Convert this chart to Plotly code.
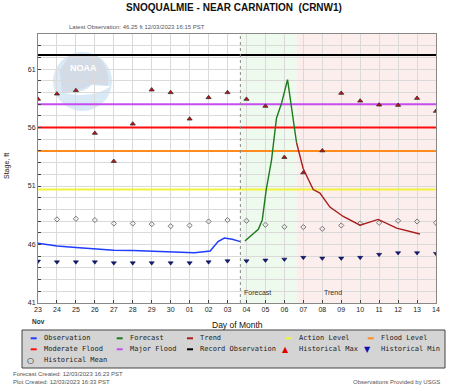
import plotly.graph_objects as go

# ---------------- data ----------------
obs_time = ["2023-11-23 00:00", "2023-11-24 00:00", "2023-11-25 00:00", "2023-11-26 00:00",
            "2023-11-27 00:00", "2023-11-28 00:00", "2023-11-29 00:00", "2023-11-30 00:00",
            "2023-11-30 18:00", "2023-12-01 06:00", "2023-12-01 18:00", "2023-12-02 02:00",
            "2023-12-02 12:00", "2023-12-02 20:00", "2023-12-03 06:00", "2023-12-03 16:15"]
obs_stage = [46.10, 45.88, 45.74, 45.62, 45.52, 45.48, 45.44, 45.40,
             45.32, 45.30, 45.38, 45.44, 46.25, 46.55, 46.45, 46.25]

fcst_time = ["2023-12-03 22:00", "2023-12-04 15:00", "2023-12-04 20:00", "2023-12-05 01:00",
             "2023-12-05 07:40", "2023-12-05 14:00", "2023-12-05 20:30", "2023-12-06 04:00",
             "2023-12-06 15:25"]
fcst_stage = [46.3, 47.3, 48.1, 50.7, 53.2, 56.8, 58.1, 60.1, 54.7]

trend_time = ["2023-12-06 15:25", "2023-12-06 23:45", "2023-12-07 12:30", "2023-12-07 21:00",
              "2023-12-08 09:40", "2023-12-09 02:30", "2023-12-09 23:45", "2023-12-10 22:50",
              "2023-12-11 22:10", "2023-12-13 03:40"]
trend_stage = [54.7, 52.5, 50.7, 50.4, 49.2, 48.4, 47.65, 48.15, 47.4, 46.9]

hist_days = ["2023-11-23", "2023-11-24", "2023-11-25", "2023-11-26", "2023-11-27", "2023-11-28",
             "2023-11-29", "2023-11-30", "2023-12-01", "2023-12-02", "2023-12-03", "2023-12-04",
             "2023-12-05", "2023-12-06", "2023-12-07", "2023-12-08", "2023-12-09", "2023-12-10",
             "2023-12-11", "2023-12-12", "2023-12-13", "2023-12-14"]
day_labels = ["23", "24", "25", "26", "27", "28", "29", "30", "01", "02", "03", "04",
              "05", "06", "07", "08", "09", "10", "11", "12", "13", "14"]
hist_max = [58.43, 58.88, 59.17, 55.52, 53.12, 56.31, 59.23, 59.0, 56.74, 58.57, 59.0,
            58.43, 57.83, 53.46, 52.14, 54.02, 58.94, 58.28, 57.94, 57.91, 58.51, 57.4]
hist_mean = [None, 48.15, 48.2, 48.09, 47.8, 47.8, 47.74, 47.57, 47.63, 47.97, 48.09,
             48.03, 47.69, 47.51, 47.49, 47.34, 47.63, 47.8, 47.86, 48.03, 47.97, 47.86]
hist_min = [44.57, 44.51, 44.51, 44.51, 44.43, 44.43, 44.43, 44.43, 44.43, 44.51, 44.6,
            44.6, 44.66, 44.74, 44.89, 44.83, 44.83, 44.89, 45.15, 45.29, 45.29, 45.23]

action_level = 50.7
flood_level = 54.0
moderate_flood = 56.0
major_flood = 58.0
record_obs = 62.2

y_ticks = [41, 46, 51, 56, 61]
x_range = ["2023-11-23", "2023-12-14"]
y_range = [41, 64]

# ---------------- styles ----------------
C_OBS, C_FC, C_TR = "#1f3cff", "#1d7a1d", "#a81c1c"
C_ACT, C_FLD, C_MOD, C_MAJ, C_REC = "#f2f23a", "#ff8a1e", "#ff0d0d", "#c64cf0", "#000000"
C_HMAX, C_HMIN, C_HMEAN = "#c81212", "#101c80", "#777777"

W, H = 456, 391
ML, MR, MT, MB = 38, 20, 34, 88
PW, PH = W - ML - MR, H - MT - MB


def px(x):
    return (x - ML) / PW


def py(y):
    return (H - MB - y) / PH


fig = go.Figure()

# threshold lines
levels = [("Action Level", action_level, C_ACT), ("Flood Level", flood_level, C_FLD),
          ("Moderate Flood", moderate_flood, C_MOD), ("Major Flood", major_flood, C_MAJ),
          ("Record Observation", record_obs, C_REC)]
for name, lvl, col in levels:
    fig.add_trace(go.Scatter(x=x_range, y=[lvl, lvl], mode="lines", name=name,
                             line=dict(color=col, width=2), hoverinfo="skip"))

fig.add_trace(go.Scatter(x=hist_days, y=hist_mean, mode="markers", name="Historical Mean",
                         marker=dict(symbol="diamond-open", size=4, color=C_HMEAN,
                                     line=dict(width=1, color=C_HMEAN))))
fig.add_trace(go.Scatter(x=hist_days, y=hist_max, mode="markers", name="Historical Max",
                         marker=dict(symbol="triangle-up", size=4.5, color=C_HMAX,
                                     line=dict(width=0.7, color="#222222"))))
fig.add_trace(go.Scatter(x=hist_days, y=hist_min, mode="markers", name="Historical Min",
                         marker=dict(symbol="triangle-down", size=4.5, color=C_HMIN,
                                     line=dict(width=0.5, color="#000033"))))

fig.add_trace(go.Scatter(x=obs_time, y=obs_stage, mode="lines", name="Observation",
                         line=dict(color=C_OBS, width=1.5)))
fig.add_trace(go.Scatter(x=fcst_time, y=fcst_stage, mode="lines", name="Forecast",
                         line=dict(color=C_FC, width=1.4)))
fig.add_trace(go.Scatter(x=trend_time, y=trend_stage, mode="lines", name="Trend",
                         line=dict(color=C_TR, width=1.4)))

shapes = []
# forecast / trend shading (below grid)
shapes.append(dict(type="rect", xref="x", yref="paper", x0=obs_time[-1], x1=fcst_time[-1],
                   y0=0, y1=1, fillcolor="#eefaee", line=dict(width=0), layer="below"))
shapes.append(dict(type="rect", xref="x", yref="paper", x0=trend_time[0], x1=x_range[1],
                   y0=0, y1=1, fillcolor="#fdeeee", line=dict(width=0), layer="below"))
# NOAA watermark
shapes.append(dict(type="circle", xref="paper", yref="paper", x0=px(53), x1=px(112),
                   y0=py(111), y1=py(52), fillcolor="#d9e9f6", line=dict(width=0), layer="below"))
shapes.append(dict(type="path", xref="paper", yref="paper",
                   path="M %f %f L %f %f L %f %f Q %f %f %f %f L %f %f Q %f %f %f %f Z" % (
                       px(60), py(70), px(70), py(55), px(96), py(55),
                       px(110), py(66), px(108), py(86),
                       px(92), py(84),
                       px(80), py(92), px(62), py(92)),
                   fillcolor="#d3dbe6", line=dict(width=0), layer="below"))
shapes.append(dict(type="path", xref="paper", yref="paper",
                   path="M %f %f Q %f %f %f %f Q %f %f %f %f Q %f %f %f %f Z" % (
                       px(60), py(92), px(80), py(96), px(92), py(85),
                       px(102), py(86), px(111), py(86),
                       px(92), py(100), px(60), py(92)),
                   fillcolor="#ffffff", line=dict(width=0), layer="below"))
# forecast start dotted line
shapes.append(dict(type="line", xref="x", yref="paper", x0=obs_time[-1], x1=obs_time[-1],
                   y0=0, y1=1, line=dict(color="#888888", width=1, dash="dot")))

# ---------------- custom legend ----------------
shapes.append(dict(type="rect", xref="paper", yref="paper", x0=px(22), x1=px(445),
                   y0=py(368), y1=py(330), fillcolor="#d4d4d4",
                   line=dict(color="#444444", width=1), layer="above"))
legend_items = [("Observation", "line", C_OBS), ("Forecast", "line", C_FC),
                ("Trend", "line", C_TR), ("Action Level", "line", C_ACT),
                ("Flood Level", "line", C_FLD), ("Moderate Flood", "line", C_MOD),
                ("Major Flood", "line", C_MAJ), ("Record Observation", "line", C_REC),
                ("Historical Max", "\u25B2", "#e00000"), ("Historical Min", "\u25BC", "#1010b0"),
                ("Historical Mean", "\u25CB", "#000000")]
col_x = [41.7, 127.7, 198, 297, 378.7]
row_y = [338.3, 349.3, 360.3]
annotations = []
for i, (name, kind, col) in enumerate(legend_items):
    tx, ty = col_x[i % 5], row_y[i // 5]
    if kind == "line":
        shapes.append(dict(type="line", xref="paper", yref="paper", x0=px(tx - 11), x1=px(tx - 5),
                           y0=py(ty), y1=py(ty), line=dict(color=col, width=2), layer="above"))
    else:
        annotations.append(dict(text=kind, xref="paper", yref="paper", x=px(tx - 11.5), y=py(ty),
                                showarrow=False, xanchor="center", yanchor="middle",
                                font=dict(family="DejaVu Sans", size=8, color=col)))
    annotations.append(dict(text=name, xref="paper", yref="paper", x=px(tx), y=py(ty),
                            showarrow=False, xanchor="left", yanchor="middle",
                            font=dict(family="DejaVu Sans Mono", size=7, color="#222222")))

# ---------------- texts ----------------
grey = "#555555"
annotations += [
    dict(text="<b>SNOQUALMIE - NEAR CARNATION  (CRNW1)</b>", x=px(234), y=py(8),
         font=dict(family="Liberation Sans", size=10, color="#111111")),
    dict(text="Latest Observation: 46.25 ft 12/03/2023 16:15 PST", x=px(137), y=py(26.7),
         font=dict(family="Liberation Sans", size=6, color=grey)),
    dict(text="Stage, ft", x=px(7), y=py(166), textangle=-90,
         font=dict(family="Liberation Sans", size=7, color="#222222")),
    dict(text="Day of Month", x=px(237.5), y=py(324.5),
         font=dict(family="Liberation Sans", size=8.5, color="#111111")),
    dict(text="<b>Nov</b>", x=px(38.7), y=py(321.7),
         font=dict(family="Liberation Sans", size=6.5, color="#333333")),
    dict(text="Forecast Created: 12/03/2023 16:23 PST", x=px(11), y=py(374), xanchor="left",
         font=dict(family="Liberation Sans", size=6, color=grey)),
    dict(text="Plot Created: 12/03/2023 16:33 PST", x=px(11), y=py(382), xanchor="left",
         font=dict(family="Liberation Sans", size=6, color=grey)),
    dict(text="Observations Provided by USGS", x=px(441.7), y=py(382), xanchor="right",
         font=dict(family="Liberation Sans", size=6, color=grey)),
    dict(text="<b>NOAA</b>", x=px(83), y=py(68),
         font=dict(family="Liberation Sans", size=9, color="#ffffff")),
]
for a in annotations:
    a.setdefault("xref", "paper")
    a.setdefault("yref", "paper")
    a.setdefault("showarrow", False)
    a.setdefault("xanchor", "center")
    a.setdefault("yanchor", "middle")

annotations.append(dict(text="Forecast", xref="x", yref="paper", x=obs_time[-1], xshift=2,
                        y=py(292), showarrow=False, xanchor="left", yanchor="middle",
                        font=dict(family="Liberation Sans", size=7, color="#333333")))
annotations.append(dict(text="Trend", xref="x", yref="paper", x="2023-12-08", y=py(292),
                        showarrow=False, xanchor="left", yanchor="middle",
                        font=dict(family="Liberation Sans", size=7, color="#333333")))

fig.update_layout(
    width=W, height=H,
    margin=dict(l=ML, r=MR, t=MT, b=MB, autoexpand=False),
    paper_bgcolor="white", plot_bgcolor="white",
    showlegend=False, hovermode=False,
    shapes=shapes, annotations=annotations,
    font=dict(family="Liberation Sans", size=7, color="#333333"),
)
fig.update_xaxes(type="date", range=x_range, tickmode="array", tickvals=hist_days,
                 ticktext=day_labels, ticks="inside", ticklen=3, tickcolor="#444444",
                 showgrid=True, gridcolor="#dadada", gridwidth=1,
                 showline=True, linecolor="#888888", mirror=True, zeroline=False,
                 tickfont=dict(family="Liberation Sans", size=7, color="#222222"))
fig.update_yaxes(range=y_range, tickmode="array", tickvals=y_ticks,
                 ticks="inside", ticklen=3, tickcolor="#444444",
                 showgrid=True, gridcolor="#dadada", gridwidth=1,
                 minor=dict(tickmode="linear", tick0=y_range[0], dtick=1, ticks="inside", ticklen=3,
                            tickcolor="#444444", showgrid=True, gridcolor="#dadada"),
                 showline=True, linecolor="#888888", mirror=True, zeroline=False,
                 tickfont=dict(family="Liberation Sans", size=7, color="#222222"))

fig.write_html("out.html", config={"displayModeBar": False},
               post_script="document.body.style.margin='0';")
